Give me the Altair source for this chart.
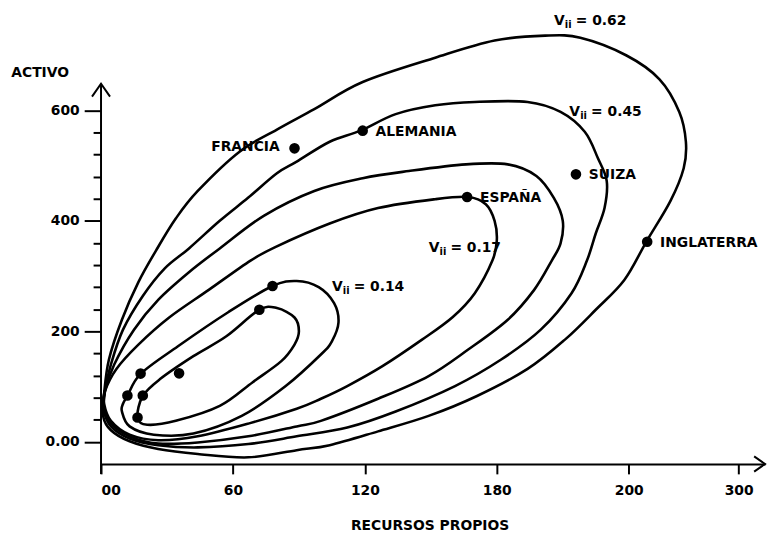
import altair as alt
import pandas as pd

# ---------------- data ----------------
# closed contour curves (RECURSOS PROPIOS, ACTIVO)
c062_x = [1, 1.4, 3.6, 9.5, 17, 25, 34, 44, 63, 80, 97, 119, 152, 179, 202, 218, 239, 254, 263, 266, 265,
          259, 248, 238, 225, 211, 194, 171, 149, 126, 104, 89, 67, 44, 26, 13, 4.5]
c062_y = [46, 87, 149, 221, 289, 346, 404, 454, 525, 565, 602, 651, 695, 726, 735, 731, 699, 656, 597, 543, 495,
          436, 362, 293, 239, 185, 132, 83, 47, 19, -6, -15, -28, -22, -13, 1, 21]

c045_x = [1.4, 1.8, 4.5, 10, 19, 29, 40, 54, 67, 80, 89, 104, 118, 134, 152, 170, 194, 209, 220, 226,
          230, 229, 225, 221, 214, 200, 182, 161, 134, 112, 89, 67, 44, 26, 13, 4.5]
c045_y = [56, 92, 140, 203, 264, 314, 350, 400, 442, 486, 507, 543, 563, 593, 609, 615, 615, 597, 561, 513,
          472, 423, 377, 328, 269, 203, 149, 101, 55, 26, 10, -4, -10, -6, 6, 28]

c030_x = [1.4, 1.8, 6, 15, 26, 40, 54, 74, 97, 119, 140, 166, 185, 198, 206, 210, 209, 205, 197, 185,
          167, 149, 126, 100, 89, 67, 44, 26, 13, 4.5]
c030_y = [60, 92, 140, 203, 257, 307, 350, 409, 454, 477, 490, 502, 502, 481, 441, 400, 359, 328, 275, 221,
          167, 119, 78, 38, 28, 10, -1, -3, 10, 33]

c017_x = [1.4, 1.8, 7, 17, 31, 49, 68, 79, 104, 126, 152, 167, 175, 179, 180, 178, 170, 160, 146, 128,
          112, 100, 89, 67, 44, 26, 13, 4.5]
c017_y = [69, 92, 132, 176, 225, 275, 328, 352, 395, 423, 439, 443, 430, 400, 364, 328, 269, 226, 185, 137,
          101, 78, 60, 33, 10, 3, 13, 38]

c014_x = [12, 18, 35, 58, 78, 89, 99, 106, 108, 105, 100, 84, 64, 42, 24, 13, 9.5, 10]
c014_y = [83, 123, 173, 235, 282, 291, 280, 251, 216, 182, 158, 101, 47, 15, 13, 28, 55, 69]

c010_x = [16.6, 19, 27, 42, 57, 72, 80, 88, 90, 88, 82, 69, 54, 34, 21]
c010_y = [44, 83, 114, 155, 191, 239, 242, 225, 200, 176, 146, 108, 65, 38, 31]

# observations (countries)
dots_x = [88, 119, 216, 166.5, 248.4, 78, 72, 18, 35.5, 12, 19, 16.6]
dots_y = [531, 563, 484, 443, 362, 282, 239, 123.5, 124, 84, 84, 44]
dots_label = ["FRANCIA", "ALEMANIA", "SUIZA", "ESPAÑA", "INGLATERRA", "", "", "", "", "", "", ""]

# contour labels  (V with subscript ii, then the value)
vii_symbol = ["V", "V", "V", "V"]
vii_sub = ["ii", "ii", "ii", "ii"]
vii_rest = ["= 0.62", "= 0.45", "= 0.17", "= 0.14"]
vii_x = [206, 213, 149, 105]
vii_y = [762, 597, 350, 280]

# axes
x_tick_values = [0, 60, 120, 180, 240, 290]
x_tick_labels = ["00", "60", "120", "180", "200", "300"]
y_tick_values = [0, 40, 80, 120, 160, 200, 240, 280, 320, 360, 400, 440, 480, 520, 560, 600]
y_label_values = [0, 200, 400, 600]
y_label_texts = ["0.00", "200", "400", "600"]
X_DOMAIN = [0, 302]
Y_DOMAIN = [-40, 780]
Y_AXIS_EXTENT = [-58, 648]

FONT = "DejaVu Sans"

# ---------------- tables ----------------
curve_sets = [("0.62", c062_x, c062_y), ("0.45", c045_x, c045_y), ("c3", c030_x, c030_y),
              ("0.17", c017_x, c017_y), ("0.14", c014_x, c014_y), ("c6", c010_x, c010_y)]
curves = pd.concat([
    pd.DataFrame({"curve": n, "x": xs_, "y": ys_, "i": list(range(len(xs_)))})
    for n, xs_, ys_ in curve_sets
], ignore_index=True)

dots = pd.DataFrame({"x": dots_x, "y": dots_y, "label": dots_label})
vii = pd.DataFrame({"x": vii_x, "y": vii_y, "sym": vii_symbol, "sub": vii_sub, "rest": vii_rest})

xs = alt.Scale(domain=X_DOMAIN, nice=False, zero=False)
ys = alt.Scale(domain=Y_DOMAIN, nice=False, zero=False)


def expr_map(values, labels):
    parts = " : ".join(f"datum.value == {v} ? '{l}'" for v, l in zip(values, labels))
    return parts + " : ''"


x_axis = alt.Axis(
    values=x_tick_values, labelExpr=expr_map(x_tick_values, x_tick_labels), labelOverlap=False,
    grid=False, domainColor="black", domainWidth=2, tickColor="black", tickWidth=2, tickSize=10,
    labelFont=FONT, labelFontSize=14, labelFontWeight="bold", labelColor="black", labelPadding=10,
    title="RECURSOS PROPIOS", titleFont=FONT, titleFontSize=14, titleFontWeight="bold",
    titleColor="black", titleX=332, titleY=62, titleAlign="center", titleBaseline="middle",
)
y_axis = alt.Axis(
    values=y_tick_values, labelExpr=expr_map(y_label_values, y_label_texts), labelOverlap=False,
    grid=False, domain=False, tickColor="black", tickWidth=2,
    tickSize={"condition": {"test": "datum.value % 200 === 0", "value": 17}, "value": 8},
    labelFont=FONT, labelFontSize=14, labelFontWeight="bold", labelColor="black", labelPadding=5,
    title="ACTIVO", titleFont=FONT, titleFontSize=14, titleFontWeight="bold", titleColor="black",
    titleAngle=0, titleX=-62, titleY=62, titleAlign="center", titleBaseline="middle",
)


def X(field):
    return alt.X(field, scale=xs, axis=x_axis, title="RECURSOS PROPIOS")


def Y(field):
    return alt.Y(field, scale=ys, axis=y_axis, title="ACTIVO")


lines = alt.Chart(curves).mark_line(
    interpolate="cardinal-closed", color="black", strokeWidth=2.6
).encode(x=X("x:Q"), y=Y("y:Q"), detail="curve:N", order="i:Q")

axis_df = pd.DataFrame({"x": [0], "y0": [Y_AXIS_EXTENT[0]], "y1": [Y_AXIS_EXTENT[1]],
                        "xe": [X_DOMAIN[1]], "ye": [Y_DOMAIN[0]]})
yrule = alt.Chart(axis_df).mark_rule(color="black", strokeWidth=2).encode(
    x=X("x:Q"), y=Y("y0:Q"), y2="y1:Q"
)
yarrow = alt.Chart(axis_df).mark_point(
    shape="M-0.7,1L0,0L0.7,1", size=676, filled=False, color="black", strokeWidth=2, opacity=1
).encode(x=X("x:Q"), y=Y("y1:Q"))
xarrow = alt.Chart(axis_df).mark_point(
    shape="M-1,-0.7L0,0L-1,0.7", size=484, filled=False, color="black", strokeWidth=2, opacity=1
).encode(x=X("xe:Q"), y=Y("ye:Q"))

points = alt.Chart(dots).mark_circle(size=115, color="black", opacity=1).encode(
    x=X("x:Q"), y=Y("y:Q")
)
labels_right = alt.Chart(dots).transform_filter(
    "datum.label != '' && datum.label != 'FRANCIA'"
).mark_text(align="left", baseline="middle", dx=13, dy=1, font=FONT, fontSize=14,
            fontWeight="bold", color="black").encode(x=X("x:Q"), y=Y("y:Q"), text="label:N")
labels_left = alt.Chart(dots).transform_filter("datum.label == 'FRANCIA'").mark_text(
    align="right", baseline="middle", dx=-15, dy=-1, font=FONT, fontSize=14,
    fontWeight="bold", color="black").encode(x=X("x:Q"), y=Y("y:Q"), text="label:N")
vii_base = alt.Chart(vii).encode(x=X("x:Q"), y=Y("y:Q"))
vii_v = vii_base.mark_text(align="left", baseline="middle", font=FONT, fontSize=14,
                           fontWeight="bold", color="black").encode(text="sym:N")
vii_ii = vii_base.mark_text(align="left", baseline="middle", dx=11, dy=4, font=FONT, fontSize=10,
                            fontWeight="bold", color="black").encode(text="sub:N")
vii_r = vii_base.mark_text(align="left", baseline="middle", dx=22, font=FONT, fontSize=14,
                           fontWeight="bold", color="black").encode(text="rest:N")

chart = alt.layer(
    lines, yrule, yarrow, xarrow, points, labels_right, labels_left, vii_v, vii_ii, vii_r
).properties(
    width=671, height=458,
    autosize=alt.AutoSizeParams(type="none"),
    padding={"left": 94, "top": 0, "right": 4, "bottom": 68},
    background="white",
).configure_view(stroke=None)

chart.save("out.html", embed_options={"renderer": "svg", "actions": False})
